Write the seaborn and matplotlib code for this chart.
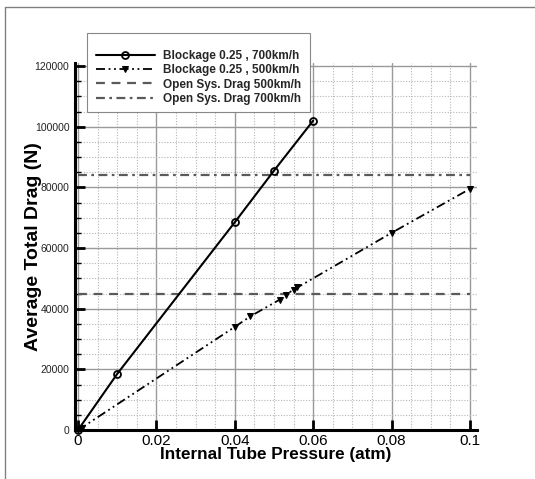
import matplotlib
matplotlib.use("Agg")
import matplotlib.pyplot as plt
import seaborn as sns
import numpy as np
import pandas as pd
from matplotlib.lines import Line2D
from matplotlib.patches import Rectangle
from matplotlib.ticker import MultipleLocator, FuncFormatter

# ---- data ----
x_700 = [0.0, 0.01, 0.04, 0.05, 0.06]
y_700 = [0, 18500, 68500, 85500, 102000]

x_500 = [0.0, 0.001, 0.04, 0.044, 0.0515, 0.053, 0.055, 0.056, 0.08, 0.1]
y_500 = [0, 800, 34000, 37500, 43000, 44500, 46300, 47000, 65000, 79500]

open_x = [0.0, 0.1]
open_500 = 44800
open_700 = 84000

labels = ["Blockage 0.25 , 700km/h", "Blockage 0.25 , 500km/h",
          "Open Sys. Drag 500km/h", "Open Sys. Drag 700km/h"]
x_ticks = [0, 0.02, 0.04, 0.06, 0.08, 0.1]
x_ticklabels = ["0", "0.02", "0.04", "0.06", "0.08", "0.1"]
y_ticks = [0, 20000, 40000, 60000, 80000, 100000, 120000]

sns.set_theme(style="white")
plt.rcParams['font.family'] = ['Liberation Sans', 'DejaVu Sans']

fig = plt.figure(figsize=(5.35, 4.79), dpi=100)
ax = fig.add_axes([75/535, 1-430/479, (477-75)/535, (430-63)/479])

sns.lineplot(x=x_700, y=y_700, ax=ax, color="black", lw=1.5, marker="o",
             markersize=5, markerfacecolor="none", markeredgecolor="black",
             markeredgewidth=1.3, label=labels[0], clip_on=False, zorder=5)
sns.lineplot(x=x_500, y=y_500, ax=ax, color="black", lw=1.3, marker="v",
             markersize=4.5, markerfacecolor="black", markeredgecolor="black",
             label=labels[1], clip_on=False, zorder=5)
sns.lineplot(x=open_x, y=[open_500]*2, ax=ax, color="#5a5a5a", lw=1.6,
             label=labels[2], zorder=4)
sns.lineplot(x=open_x, y=[open_700]*2, ax=ax, color="#5a5a5a", lw=1.6,
             label=labels[3], zorder=4)

lines = ax.get_lines()
lines[1].set_dashes([5, 2, 1, 2, 1, 2])
lines[2].set_dashes([4, 3])
lines[3].set_dashes([4, 2, 1.2, 2])

ax.set_xlim(-0.00077, 0.1018)
ax.set_ylim(0, 121000)
ax.set_xticks(x_ticks)
ax.set_xticklabels(x_ticklabels)
ax.set_yticks(y_ticks)
ax.yaxis.set_major_formatter(FuncFormatter(lambda v, p: f"{int(v)}"))
ax.xaxis.set_minor_locator(MultipleLocator(0.005))
ax.yaxis.set_minor_locator(MultipleLocator(5000))

ax.grid(which="major", color="#9a9a9a", lw=1.0, ls="-")
ax.grid(which="minor", color="#b5b5b5", lw=0.8, ls=(0, (1, 1.5)))
ax.set_axisbelow(True)

for s in ["top", "right"]:
    ax.spines[s].set_visible(False)
for s in ["left", "bottom"]:
    ax.spines[s].set_visible(True)
    ax.spines[s].set_color("black")
    ax.spines[s].set_linewidth(2.2)

ax.tick_params(axis="x", which="major", direction="in", length=7, width=2,
               color="black", labelsize=11, pad=3, bottom=True, labelcolor="black")
ax.tick_params(axis="y", which="major", direction="in", length=7, width=2,
               color="black", labelsize=7.5, pad=4, left=True, labelcolor="#222222")
ax.tick_params(axis="x", which="minor", length=0)
ax.tick_params(axis="y", which="minor", direction="in", length=4, width=1,
               color="black", left=True)

ax.set_xlabel("Internal Tube Pressure (atm)", fontsize=12.3, fontweight="bold",
              labelpad=-1, color="black")
ax.set_ylabel("Average Total Drag (N)", fontsize=14, fontweight="bold",
              labelpad=-5, color="black")

handles, labs = ax.get_legend_handles_labels()
ax.get_legend().remove()

# legend frame box
fig.add_artist(Rectangle((87/535, 1-112/479), (310-87)/535, (112-33)/479,
                         transform=fig.transFigure, facecolor="white",
                         edgecolor="#888888", lw=0.8, zorder=9))
leg = fig.legend(handles, labs, loc="upper left",
                 bbox_to_anchor=(87/535, 1-41/479), frameon=False,
                 handlelength=5, handletextpad=0.7,
                 labelspacing=0.2, borderpad=0.75, borderaxespad=0,
                 prop={"family": "Liberation Sans", "weight": "bold", "size": 8.5})
leg.set_zorder(10)

# outer frame lines (top and left)
fig.add_artist(Line2D([5/535, 1.0], [1-7/479, 1-7/479], color="#808080", lw=1,
                      transform=fig.transFigure))
fig.add_artist(Line2D([5/535, 5/535], [1-7/479, 0.0], color="#808080", lw=1,
                      transform=fig.transFigure))

fig.savefig("out.png", dpi=100)
